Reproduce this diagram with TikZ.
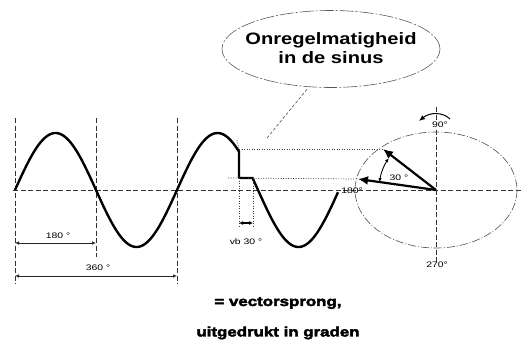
\documentclass[tikz,border=0pt]{standalone}
\usepackage{fontspec}
\setmainfont{Liberation Sans}
\newfontfamily\wf[FakeStretch=1.3]{Liberation Sans}
\newfontfamily\wfm[FakeStretch=1.22]{Liberation Sans Bold}
\newfontfamily\wfb[FakeStretch=1.25,FakeBold=3]{Liberation Sans Bold}
\usetikzlibrary{arrows.meta,shapes.geometric}
\begin{document}
\begin{tikzpicture}[x=1pt,y=-1pt,
  axis/.style={black!80,line width=0.7pt,dash pattern=on 5pt off 2.5pt},
  dotline/.style={black!75,line width=0.7pt,dash pattern=on 1pt off 1.5pt},
  wave/.style={black,line width=2.4pt,line join=round},
  dim/.style={black!85,line width=0.7pt,{Latex[length=4pt,width=3.5pt]}-{Latex[length=4pt,width=3.5pt]}},
  vec/.style={black,line width=2.2pt,-{Latex[length=10pt,width=9pt]}},
  small/.style={font=\wf\fontsize{8}{9}\selectfont,inner sep=0.5pt},
  big/.style={font=\wfm\fontsize{16.5}{20}\selectfont,align=center},
  bot/.style={font=\wfb\fontsize{13.5}{16}\selectfont}]
\useasboundingbox (0,0) rectangle (521,343);
% key coordinates
\coordinate (o) at (15,190);
\coordinate (c) at (436,190);
\coordinate (dt) at (239,149);
\coordinate (db) at (239,178);
\coordinate (de) at (253,178);
\coordinate (v1) at (383,149);
\coordinate (v2) at (358,179);
% axes
\draw[axis] (13,190) -- (521,190);
\draw[axis] (15,118) -- (15,284);
\draw[axis] (96,118) -- (96,257);
\draw[axis] (177,118) -- (177,284);
\draw[axis] (c) ++(0,-83) -- ++(0,156);
% circle
\draw[black!70,line width=0.6pt,dash pattern=on 8pt off 2pt on 1pt off 2pt] (c) ellipse [x radius=81, y radius=58];
% sine wave
\draw[wave] plot[domain=15:239,samples=120] (\x,{190-57*sin((\x-15)*2.2222)}) -- (db) -- (de)
  -- plot[domain=253:338,samples=60] (\x,{190-57*sin((\x-15)*2.2222)});
% dotted projection lines
\draw[dotline] (dt) -- (v1);
\draw[dotline] (228,178) -- (v2);
\draw[dotline] (db) -- (239,228);
\draw[dotline] (de) -- (253,228);
\draw[dotline] (237,140) -- (dt);
\coordinate (va) at (239,223);
\coordinate (vb) at (253,223);
\draw[black,line width=1.6pt,{Latex[length=4pt,width=4pt]}-{Latex[length=4pt,width=4pt]}] (va) -- (vb);
\node[small] (vblab) at (246,242) {vb 30 °};
% dimension arrows
\coordinate (a1) at (15,243); \coordinate (a2) at (96,243);
\coordinate (b1) at (15,276); \coordinate (b2) at (177,276);
\draw[dim] (a1) -- (a2);
\draw[dim] (b1) -- (b2);
\node[small] (l180) at (58,236) {180 °};
\node[small] (l360) at (98,268) {360 °};
% vectors
\draw[vec] (c) -- (v1);
\draw[vec] (c) -- (v2);
\draw[black,line width=0.9pt,{Latex[length=4pt,width=3.5pt]}-{Latex[length=4pt,width=3.5pt]}]
  (c) ++(-172:57) arc[start angle=-172,end angle=-146,radius=57];
\node[small] (l30) at (399,178) {30 °};
% rotation arrow
\draw[black,line width=1pt,-{Latex[length=6pt,width=5pt]}] (450,119) .. controls (443,112) and (430,112) .. (419,121);
% degree labels
\node[small,fill=white,inner sep=0.3pt] (l90) at (440,125) {90°};
\node[small,fill=white,inner sep=0.3pt] (l270) at (437,265) {270°};
\node[small] (l180b) at (352,191) {180°};
% speech bubble
\node[draw=black!65,line width=0.6pt,dash pattern=on 14pt off 2pt on 2pt off 2pt,ellipse,minimum width=218,minimum height=77,inner sep=0] (bub) at (331,49) {};
\node[big] (btxt) at (331,48) {Onregelmatigheid\\[-1pt]in de sinus};
\coordinate (tail) at (267,138);
\draw[black!70,line width=0.6pt,dash pattern=on 3pt off 2pt] (tail) -- (308,88);
% bottom text
\node[bot] (t1) at (278,303) {= vectorsprong,};
\node[bot] (t2) at (278,333) {uitgedrukt in graden};
\end{tikzpicture}
\end{document}
